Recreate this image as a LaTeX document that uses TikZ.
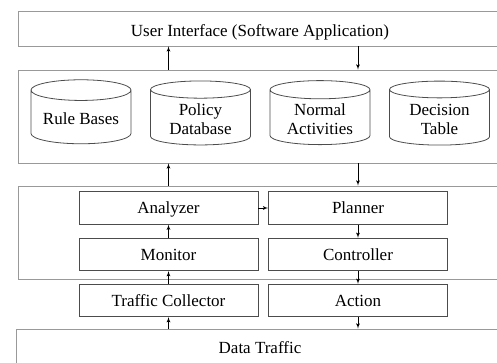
\documentclass[tikz,border=0pt]{standalone}
\usepackage{fontspec}
\setmainfont{Liberation Serif}
\usetikzlibrary{arrows,shapes.geometric}

\begin{document}
\begin{tikzpicture}[x=1pt, y=-1pt, line width=0.8pt, font=\fontsize{17}{19}\selectfont]
        \tikzstyle{frame} = [rectangle, draw=gray!80, minimum width=484pt, minimum height=93pt]
        \tikzstyle{block} = [rectangle, draw=black!70, minimum width=179pt, minimum height=32.5pt, text height=13pt, text depth=1pt, text centered]
        \tikzstyle{store} = [cylinder, shape border rotate=90, aspect=0.25, draw=black!70, minimum width=100pt, minimum height=64pt, align=center]
        \tikzstyle{line} = [draw, -{latex'[scale=1.4]}]

        \clip (0,0) rectangle (497,363);

        % layers
        \node [frame, minimum height=35pt, text height=17pt, text depth=0pt] (ui) at (260,28.5) {User Interface (Software Application)};
        \node [frame] (kb) at (260,116.5) {};
        \node [frame] (mape) at (260,232.5) {};
        \node [frame, minimum width=488pt, minimum height=37pt] (traffic) at (260,347.5) {Data Traffic};

        % knowledge stores
        \node [store] (rules) at (81,119) {Rule Bases};
        \node [store, right of=rules, node distance=119.5pt] (policy) {Policy\\Database};
        \node [store, right of=policy, node distance=119.5pt] (normal) {Normal\\Activities};
        \node [store, right of=normal, node distance=119.5pt] (decision) {Decision\\Table};

        % loop blocks
        \node [block] (analyzer) at (168.5,208) {Analyzer};
        \node [block, right of=analyzer, node distance=189.5pt] (planner) {Planner};
        \node [block, below of=analyzer, node distance=46.5pt] (monitor) {Monitor};
        \node [block, right of=monitor, node distance=189.5pt] (controller) {Controller};
        \node [block, below of=monitor, node distance=46pt] (collector) {Traffic Collector};
        \node [block, right of=collector, node distance=189.5pt] (action) {Action};

        \path [line] (kb.north -| analyzer) -- (ui.south -| analyzer);
        \path [line] (ui.south -| planner) -- (kb.north -| planner);
        \path [line] (mape.north -| analyzer) -- (kb.south -| analyzer);
        \path [line] (kb.south -| planner) -- (mape.north -| planner);
        \path [line] (analyzer) -- (planner);
        \path [line] (monitor) -- (analyzer);
        \path [line] (planner) -- (controller);
        \path [line] (collector) -- (monitor);
        \path [line] (controller) -- (action);
        \path [line] (traffic.north -| collector) -- (collector);
        \path [line] (action) -- (traffic.north -| action);
\end{tikzpicture}
\end{document}
